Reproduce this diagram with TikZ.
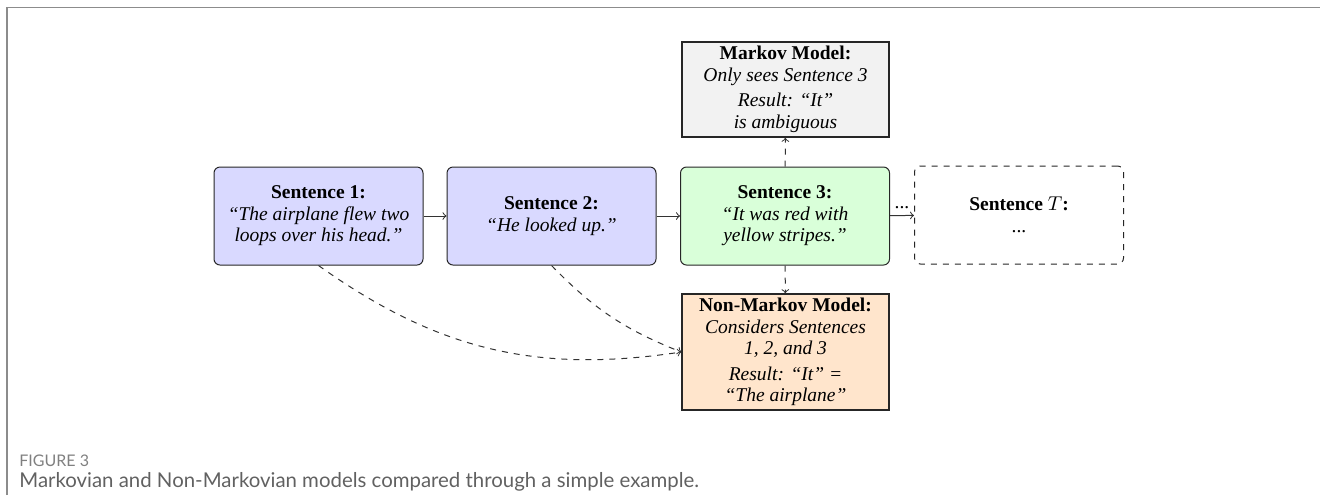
\documentclass[tikz,border=0pt]{standalone}
\usepackage{fontspec}
\setmainfont{Liberation Serif}
\newfontfamily\capfont{Lato}
\begin{document}
\begin{tikzpicture}[x=0.5pt,y=0.5pt,
  every node/.style={font=\fontsize{9.75}{10.75}\selectfont, align=center},
  sent/.style={draw=black!85, line width=0.5pt, rounded corners=3pt,
    minimum width=104.5pt, minimum height=49pt, inner sep=0pt},
  model/.style={draw=black!85, line width=0.8pt, minimum width=103.5pt, inner sep=0pt},
  conn/.style={->, draw=black!80, line width=0.5pt},
  dconn/.style={conn, dashed}
]
\useasboundingbox (0,0) rectangle (1320,-495);

% page frame
\draw[black!45, line width=0.8pt] (7,-495) -- (7,-7.5) -- (1320,-7.5);

% sentence chain
\node[sent, fill=blue!15] (s1) at (318.5,-216)
  {\textbf{Sentence 1:}\\ \textit{“The airplane flew two}\\ \textit{loops over his head.”}};
\node[sent, fill=blue!15] (s2) at (551.5,-216)
  {\textbf{Sentence 2:}\\ \textit{“He looked up.”}};
\node[sent, fill=green!15] (s3) at (785,-216)
  {\textbf{Sentence 3:}\\ \textit{“It was red with}\\ \textit{yellow stripes.”}};
\node[sent, dashed, fill=white] (sT) at (1019,-215)
  {\textbf{Sentence $T$:}\\ ...};

% model boxes
\node[model, fill=gray!10, minimum height=47.5pt] (mk) at (785.5,-89.5)
  {\textbf{Markov Model:}\\ \textit{Only sees Sentence 3}\\[2pt]
   \textit{Result: “It”}\\ \textit{is ambiguous}};
\node[model, fill=orange!20, minimum height=58pt] (nm) at (785.5,-352)
  {\textbf{Non-Markov Model:}\\ \textit{Considers Sentences}\\ \textit{1, 2, and 3}\\[2pt]
   \textit{Result: “It” =}\\ \textit{“The airplane”}};

% connectors
\draw[conn] (s1) -- (s2);
\draw[conn] (s2) -- (s3);
\draw[conn] (s3) -- node[above] {...} (sT);
\draw[dconn] (s3) -- (mk);
\draw[dconn] (s3) -- (nm);
\draw[dconn] (s1.south) to[bend right=22] (nm.west);
\draw[dconn] (s2.south) to[bend right=12] (nm.west);

% caption
\node[anchor=base west, inner sep=0pt, text=black!50,
  font=\capfont\fontsize{8}{9}\selectfont] (fig) at (19,-466) {FIGURE 3};
\node[anchor=base west, inner sep=0pt, text=black!62,
  font=\capfont\fontsize{10.2}{11}\selectfont] (cap) at (19,-487)
  {Markovian and Non-Markovian models compared through a simple example.};
\end{tikzpicture}
\end{document}
